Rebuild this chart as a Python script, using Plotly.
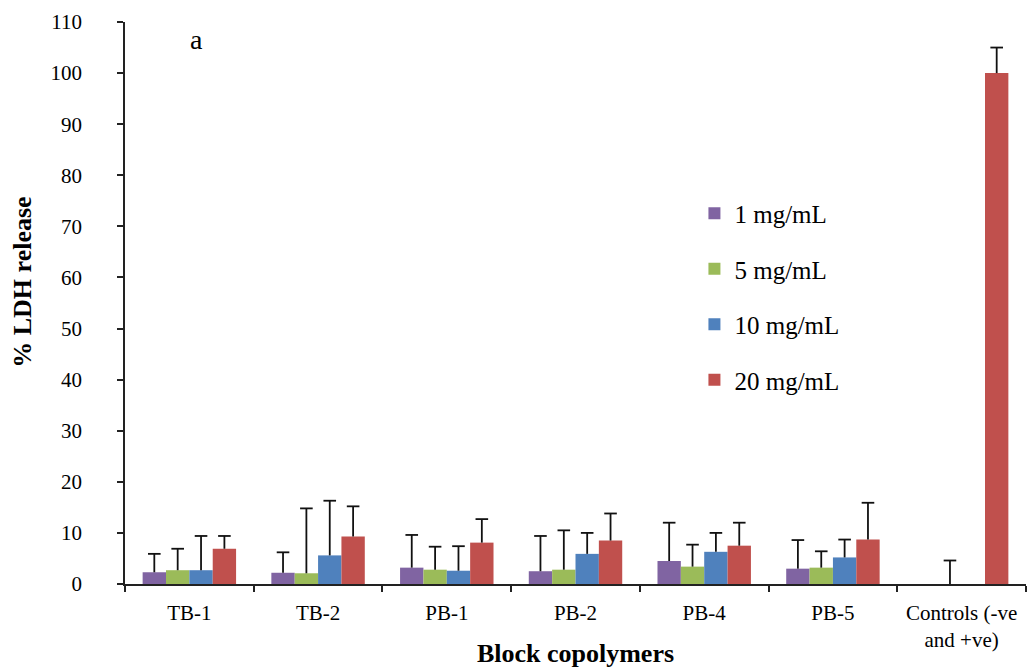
import plotly.graph_objects as go

# Block copolymer samples plus the controls group
categories = ["TB-1", "TB-2", "PB-1", "PB-2", "PB-4", "PB-5", "Controls (-ve<br>and +ve)"]

# Mean % LDH release per concentration
ldh_1 = [2.3, 2.2, 3.2, 2.5, 4.5, 3.0, None]
ldh_5 = [2.7, 2.1, 2.8, 2.8, 3.4, 3.2, 0.0]
ldh_10 = [2.7, 5.6, 2.6, 5.9, 6.3, 5.2, None]
ldh_20 = [6.9, 9.3, 8.1, 8.5, 7.5, 8.7, 100.0]

# Upper error bars (standard deviation)
err_1 = [3.6, 4.0, 6.4, 6.9, 7.5, 5.6, None]
err_5 = [4.2, 12.7, 4.5, 7.7, 4.3, 3.2, 4.6]
err_10 = [6.7, 10.7, 4.8, 4.1, 3.7, 3.5, None]
err_20 = [2.5, 5.9, 4.6, 5.3, 4.5, 7.2, 5.0]

series = [
    ("1 mg/mL", ldh_1, err_1, "#8064A2"),
    ("5 mg/mL", ldh_5, err_5, "#9BBB59"),
    ("10 mg/mL", ldh_10, err_10, "#4F81BD"),
    ("20 mg/mL", ldh_20, err_20, "#C0504D"),
]

serif = "Liberation Serif, Times New Roman, serif"
GAP = 0.274

fig = go.Figure()
for name, vals, errs, color in series:
    # bars with an upward whisker (no caps; the cap is a marker below)
    fig.add_trace(go.Bar(
        x=categories,
        y=vals,
        name=name,
        legendgroup=name,
        marker=dict(color=color, line=dict(width=0)),
        error_y=dict(
            type="data",
            symmetric=False,
            array=[e if e is not None else 0 for e in errs],
            arrayminus=[0] * len(errs),
            color="#111111",
            thickness=1.8,
            width=0,
        ),
    ))

for name, vals, errs, color in series:
    # caps at the top of each whisker
    tops = [v + e if (v is not None and e is not None) else None for v, e in zip(vals, errs)]
    fig.add_trace(go.Scatter(
        x=categories,
        y=tops,
        mode="markers",
        showlegend=False,
        hoverinfo="skip",
        marker=dict(symbol="line-ew", size=9, color="#111111",
                    line=dict(color="#111111", width=1.8)),
    ))

fig.update_layout(
    width=1028,
    height=668,
    margin=dict(l=125, r=2, t=22, b=84),
    paper_bgcolor="white",
    plot_bgcolor="white",
    barmode="group",
    bargap=GAP,
    bargroupgap=0,
    scattermode="group",
    scattergap=GAP,
    font=dict(family=serif, size=21, color="black"),
    showlegend=True,
    legend=dict(
        x=0.632,
        y=0.70,
        xanchor="left",
        yanchor="top",
        font=dict(family=serif, size=25, color="black"),
        tracegroupgap=20,
        bgcolor="rgba(0,0,0,0)",
        itemwidth=30,
    ),
    annotations=[
        dict(
            text="a", x=0.0799, y=0.968, xref="paper", yref="paper",
            xanchor="center", yanchor="middle", showarrow=False,
            font=dict(family=serif, size=28, color="black"),
        ),
        dict(
            text="<b>% LDH release</b>", x=-0.1132, y=0.536, xref="paper", yref="paper",
            xanchor="center", yanchor="middle", showarrow=False, textangle=-90,
            font=dict(family=serif, size=26, color="black"),
        ),
    ],
)

fig.update_xaxes(
    type="category",
    automargin=False,
    showline=True,
    linecolor="#222222",
    linewidth=1.5,
    ticks="outside",
    tickson="boundaries",
    ticklen=6,
    tickcolor="#222222",
    tickwidth=1.5,
    ticklabelstandoff=9,
    tickfont=dict(family=serif, size=21),
    title=dict(text="<b>Block copolymers</b>", font=dict(family=serif, size=26), standoff=0),
    showgrid=False,
)

fig.update_yaxes(
    range=[0, 110],
    dtick=10,
    automargin=False,
    showline=True,
    linecolor="#222222",
    linewidth=1.5,
    ticks="outside",
    ticklen=6,
    tickcolor="#222222",
    tickwidth=1.5,
    ticklabelstandoff=31,
    tickfont=dict(family=serif, size=21),
    showgrid=False,
    zeroline=False,
)

fig.write_html("out.html")
